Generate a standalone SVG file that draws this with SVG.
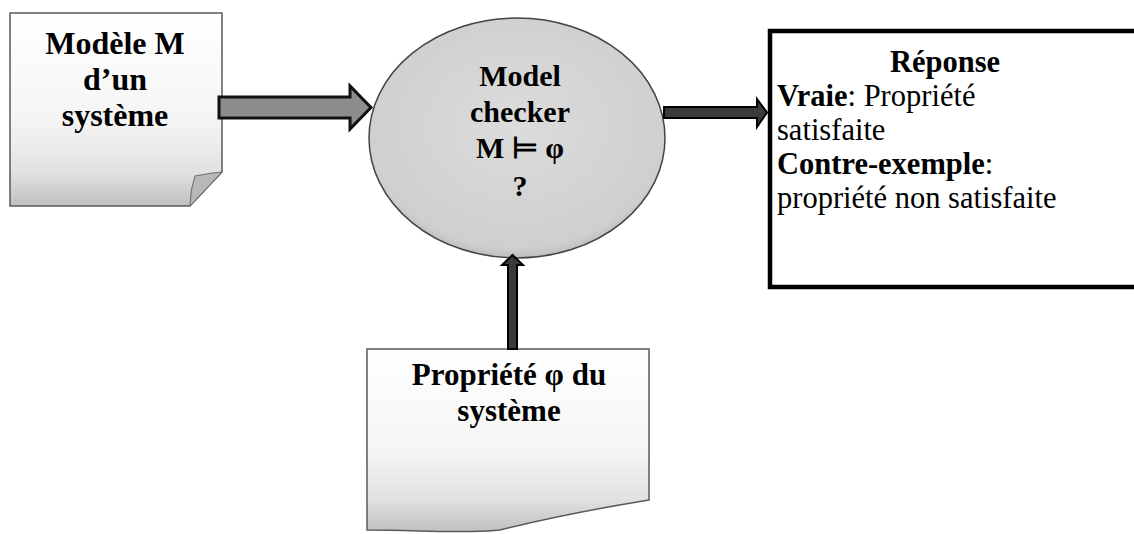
<svg xmlns="http://www.w3.org/2000/svg" width="1134" height="534" viewBox="0 0 1134 534">
  <style>
    .t { font-family: "Liberation Serif", "Times New Roman", serif; fill: #000; }
    .b { font-weight: bold; }
    .c { text-anchor: middle; }
    .doc { stroke: #5a5a5a; stroke-width: 1.5; }
    .flap { fill: #b8b8b8; stroke: #6a6a6a; stroke-width: 1; }
    .block { fill: #8c8c8c; stroke: #111; stroke-width: 3; stroke-linejoin: miter; }
    .thin { fill: #3a3a3a; stroke: #000; stroke-width: 2; }
  </style>
  <defs>
    <linearGradient id="paper" x1="0" y1="0" x2="0" y2="1">
      <stop offset="0" stop-color="#ffffff"/>
      <stop offset="0.55" stop-color="#f5f5f5"/>
      <stop offset="0.82" stop-color="#e2e2e2"/>
      <stop offset="1" stop-color="#c0c0c0"/>
    </linearGradient>
    <radialGradient id="orb" cx="0.5" cy="0.45" r="0.6">
      <stop offset="0" stop-color="#dcdcdc"/>
      <stop offset="0.85" stop-color="#cfcfcf"/>
      <stop offset="1" stop-color="#a8a8a8"/>
    </radialGradient>
  </defs>

  <!-- input model document -->
  <g id="node-model">
    <path class="doc" fill="url(#paper)" d="M10,13 H222 V172 Q205,190 190,206 H10 Z"/>
    <path class="flap" d="M195,176 Q210,173 222,172 Q205,190 190,206 Q190,190 195,176 Z"/>
    <text class="t b c" font-size="32" x="115" y="54">Modèle M</text>
    <text class="t b c" font-size="32" x="115" y="90">d’un</text>
    <text class="t b c" font-size="32" x="115" y="126">système</text>
  </g>

  <!-- model checker -->
  <g id="node-checker">
    <ellipse cx="517" cy="138" rx="148" ry="120" fill="url(#orb)" stroke="#444" stroke-width="1.5"/>
    <text class="t b c" font-size="30" x="520" y="86">Model</text>
    <text class="t b c" font-size="30" x="520" y="122">checker</text>
    <text class="t b c" font-size="30" x="520" y="158">M ⊨ φ</text>
    <text class="t b c" font-size="30" x="520" y="196">?</text>
  </g>

  <!-- property document -->
  <g id="node-property">
    <path class="doc" fill="url(#paper)" d="M367,349 H649 V500 C600,508 540,520 500,530 C460,534 420,530 367,530 Z"/>
    <text class="t b c" font-size="31" x="509" y="385">Propriété φ du</text>
    <text class="t b c" font-size="31" x="509" y="421">système</text>
  </g>

  <!-- answer box -->
  <g id="node-answer">
    <rect x="770" y="31" width="380" height="256" fill="#fff" stroke="#000" stroke-width="4.5"/>
    <text class="t b c" font-size="30.5" x="945" y="72">Réponse</text>
    <text class="t" font-size="30.5" x="777" y="106"><tspan font-weight="bold">Vraie</tspan>: Propriété</text>
    <text class="t" font-size="30.5" x="777" y="140">satisfaite</text>
    <text class="t" font-size="30.5" x="777" y="174"><tspan font-weight="bold">Contre-exemple</tspan>:</text>
    <text class="t" font-size="30.5" x="777" y="208">propriété non satisfaite</text>
  </g>

  <!-- connectors -->
  <g id="connectors">
    <path class="block" d="M219,97 H350 V86 L371,107.5 L350,129 V118 H219 Z"/>
    <path class="thin" d="M664,107 H757 V99 L767,112.5 L757,127 V118 H664 Z"/>
    <path class="thin" d="M508,349 V265 H502 L512.5,255 L523,265 H517 V349 Z"/>
  </g>
</svg>
